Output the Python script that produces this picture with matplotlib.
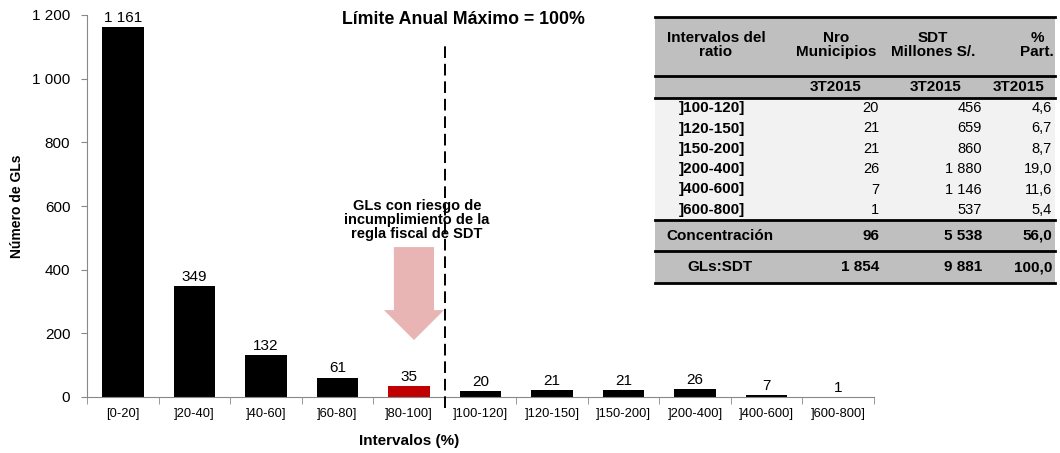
import numpy as np
import matplotlib
matplotlib.use("Agg")
import matplotlib.pyplot as plt
from matplotlib.patches import FancyArrow, Rectangle

plt.rcParams['font.family'] = ['Liberation Sans', 'DejaVu Sans']

# Datos del gráfico
intervalos = ['[0-20]', ']20-40]', ']40-60]', ']60-80]', ']80-100]', ']100-120]',
              ']120-150]', ']150-200]', ']200-400]', ']400-600]', ']600-800]']
num_gls = [1161, 349, 132, 61, 35, 20, 21, 21, 26, 7, 1]
idx_riesgo = 4  # barra ]80-100]

# Datos de la tabla
tab_int = [']100-120]', ']120-150]', ']150-200]', ']200-400]', ']400-600]', ']600-800]']
tab_mun = [20, 21, 21, 26, 7, 1]
tab_sdt = [456, 659, 860, 1880, 1146, 537]
tab_part = [4.6, 6.7, 8.7, 19.0, 11.6, 5.4]
tot_labels = ['Concentración', 'GLs:SDT']
tot_mun = [96, 1854]
tot_sdt = [5538, 9881]
tot_part = [56.0, 100.0]


def miles(v):
    return f"{v:,}".replace(",", " ")


def dec(v):
    return f"{v:.1f}".replace(".", ",")


W, H = 1060, 453
fig = plt.figure(figsize=(W / 100, H / 100), dpi=100)
ax = fig.add_axes([87 / W, 1 - 397 / H, 787 / W, 382 / H])

x = np.arange(len(intervalos))
colores = ['#C00000' if i == idx_riesgo else 'black' for i in x]
ax.bar(x, num_gls, width=0.58, color=colores, zorder=2)

for i, v in zip(x, num_gls):
    ax.annotate(miles(v), (i, v), xytext=(0, 1.5), textcoords='offset points',
                ha='center', va='bottom', fontsize=11)

# Ejes
ax.set_xlim(-0.5, len(intervalos) - 0.5)
ax.set_ylim(0, 1200)
ax.set_yticks(np.arange(0, 1201, 200))
ax.set_yticklabels([miles(t) for t in range(0, 1201, 200)], fontsize=11)
ax.set_xticks(x)
ax.set_xticklabels(intervalos, fontsize=9.3)
ax.set_xticks(np.arange(-0.5, len(intervalos)), minor=True)
ax.tick_params(axis='x', which='major', length=0, pad=8)
ax.tick_params(axis='x', which='minor', length=5, color='#888888')
ax.tick_params(axis='y', length=4, color='#888888', pad=8)
for s in ['top', 'right']:
    ax.spines[s].set_visible(False)
for s in ['left', 'bottom']:
    ax.spines[s].set_color('#888888')

ax.set_ylabel('Número de GLs', fontsize=10, fontweight='bold', labelpad=6)
fig.text(409 / W, 1 - 441 / H, 'Intervalos (%)', fontsize=11, fontweight='bold',
         ha='center', va='center')

# Línea de límite (100%)
ax.plot([idx_riesgo + 0.5] * 2, [-35, 1112], color='black', lw=1.4,
        dashes=(6, 3), clip_on=False, zorder=3)
fig.text(463 / W, 1 - 20 / H, 'Límite Anual Máximo = 100%', fontsize=12.8,
         fontweight='bold', ha='center', va='center')

# Flecha de riesgo
ax.add_patch(FancyArrow(idx_riesgo + 0.07, 471, 0, -292, width=0.56, head_width=0.84,
                        head_length=94, length_includes_head=True,
                        color='#E8B4B4', lw=0, zorder=1))
ax.text(idx_riesgo + 0.11, 556, 'GLs con riesgo de\nincumplimiento de la\nregla fiscal de SDT',
        fontsize=10.5, fontweight='bold', ha='center', va='center', linespacing=1.0, zorder=4)

# Tabla (coordenadas en píxeles)
tx = fig.add_axes([0, 0, 1, 1], zorder=5)
tx.set_xlim(0, W)
tx.set_ylim(H, 0)
tx.axis('off')
tx.patch.set_alpha(0)

x0, x1 = 655, 1055
c1, c2, c3, c4 = 716, 879, 982, 1052
h2, h3, h4 = 836, 933, 1037
gris, claro = '#BFBFBF', '#F2F2F2'

tx.add_patch(Rectangle((x0, 17), x1 - x0, 81, color=gris, lw=0))
tx.add_patch(Rectangle((x0, 98), x1 - x0, 122, color=claro, lw=0))
tx.add_patch(Rectangle((x0, 220), x1 - x0, 63, color=gris, lw=0))
for yl in [17, 76, 98, 220, 251, 283]:
    tx.plot([x0, x1], [yl, yl], color='black', lw=2)

hb = dict(fontsize=11, fontweight='bold', va='center', ha='center', linespacing=1.05)
tx.text(c1, 45, 'Intervalos del\nratio', **hb)
tx.text(h2, 45, 'Nro\nMunicipios', **hb)
tx.text(h3, 45, 'SDT\nMillones S/.', **hb)
tx.text(h4, 45, '%\nPart.', **hb)
for xc in [h2, 936, 1019]:
    tx.text(xc, 87, '3T2015', **hb)

row_h = 122 / len(tab_int)
for k, (lab, m, s, p) in enumerate(zip(tab_int, tab_mun, tab_sdt, tab_part)):
    yc = 98 + row_h * (k + 0.5)
    tx.text(c1 - 4, yc, lab, fontsize=11, fontweight='bold', ha='center', va='center')
    tx.text(c2, yc, miles(m), fontsize=10.5, ha='right', va='center')
    tx.text(c3, yc, miles(s), fontsize=10.5, ha='right', va='center')
    tx.text(c4, yc, dec(p), fontsize=10.5, ha='right', va='center')

for k, (lab, m, s, p) in enumerate(zip(tot_labels, tot_mun, tot_sdt, tot_part)):
    yc = 220 + 31.5 * (k + 0.5)
    tb = dict(fontsize=11, fontweight='bold', va='center')
    tx.text(c1 + 4, yc, lab, ha='center', **tb)
    tx.text(c2, yc, miles(m), ha='right', **tb)
    tx.text(c3, yc, miles(s), ha='right', **tb)
    tx.text(c4, yc, dec(p), ha='right', **tb)

fig.savefig('out.png', dpi=100)
